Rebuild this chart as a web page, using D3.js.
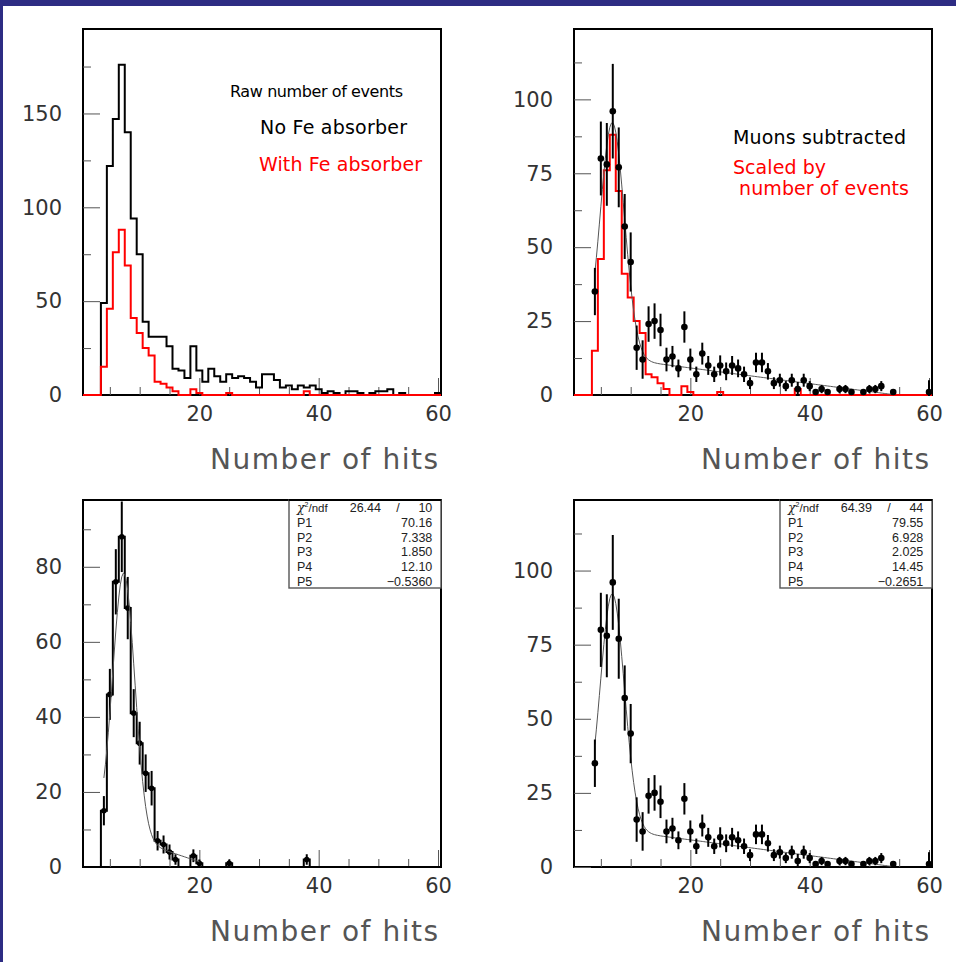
<!DOCTYPE html>
<html>
<head>
<meta charset="utf-8">
<script src="https://cdn.jsdelivr.net/npm/d3@7"></script>
<style>
  body { margin: 0; background: #fff; }
  svg { display: block; }
</style>
</head>
<body>
<svg id="chart" width="956" height="962"></svg>
<script>
// ---- data -------------------------------------------------------------
// bin centres (number of hits), one bin per integer
const hitBins = d3.range(1, 61);

// raw counts, no Fe absorber (bins 1..60)
const rawNoFe = [0, 0, 0, 49, 122, 147, 176, 140, 94, 75,
                 39, 31, 31, 31, 26, 14, 13, 9, 26, 13,
                 7, 14, 10, 7, 11, 9, 10, 9, 7, 4,
                 11, 11, 8, 4, 5, 3, 5, 4, 5, 3,
                 1, 2, 1, 0, 2, 2, 1, 0, 1, 2,
                 2, 3, 0, 1, 0, 0, 0, 0, 0, 1];

// raw counts, with Fe absorber (bins 1..60)
const rawWithFe = [0, 0, 0, 15, 46, 76, 88, 69, 41, 33,
                   25, 21, 7, 6, 4, 2, 0, 0, 3, 1,
                   0, 0, 0, 0, 1, 0, 0, 0, 0, 0,
                   0, 0, 0, 0, 0, 0, 0, 2, 0, 0,
                   0, 0, 0, 0, 0, 0, 0, 0, 0, 0,
                   0, 0, 0, 0, 0, 0, 0, 0, 0, 0];

// statistical errors of the Fe-absorber histogram (non-empty bins)
const feErrBins = [4, 5, 6, 7, 8, 9, 10, 11, 12, 13, 14, 15, 16, 19, 20, 25, 38];
const feErrors  = [3.9, 6.8, 8.7, 9.4, 8.3, 6.4, 5.7, 5.0, 4.6, 2.6, 2.4, 2.0, 1.4, 1.7, 1.0, 1.0, 1.4];

// muon-subtracted spectrum (points with errors)
const muonBins   = [4, 5, 6, 7, 8, 9, 10, 11, 12, 13, 14, 15, 16, 17, 18, 19, 20, 21, 22, 23,
                    24, 25, 26, 27, 28, 29, 30, 31, 32, 33, 34, 35, 36, 37, 38, 39, 40, 41, 42, 43,
                    45, 46, 47, 49, 50, 51, 52, 54, 60];
const muonCounts = [35, 80, 78, 96, 77, 57, 45, 16, 12, 24, 25, 22, 12, 13, 9, 23, 12, 7, 14, 10,
                    7, 10, 8, 10, 9, 7, 4, 11, 11, 8, 4, 5, 3, 5, 2, 5, 3, 1, 2, 1,
                    2, 2, 1, 1, 2, 2, 3, 1, 1];
const muonErrors = [8, 12.5, 14, 16, 13.5, 11, 10, 7.5, 6.5, 6, 6, 5.5, 4, 3.6, 3, 5.3, 3.7, 2.6, 3.7, 3.2,
                    2.6, 3.4, 3, 3.2, 3, 2.6, 2, 3.3, 3.3, 2.8, 2, 2.2, 1.7, 2.2, 2.4, 2.2, 1.7, 1, 1.4, 1,
                    1.4, 1.4, 1, 1, 1.4, 1.4, 1.7, 1, 4];

// fit results: P1*gaus(x; P2, P3) + P4 + P5*x
const fitFeParams   = [70.16, 7.338, 1.850, 12.10, -0.5360];
const fitFeLabels   = ["70.16", "7.338", "1.850", "12.10", "\u22120.5360"];
const fitFeChi2     = ["26.44", "10"];
const fitFeRange    = [4, 20];
const fitMuonParams = [79.55, 6.928, 2.025, 14.45, -0.2651];
const fitMuonLabels = ["79.55", "6.928", "2.025", "14.45", "\u22120.2651"];
const fitMuonChi2   = ["64.39", "44"];
const fitMuonRange  = [4, 54];

// axis ticks
const xMajorTicks = [20, 40, 60];
const xMinorTicks = [5, 10, 15, 25, 30, 35, 45, 50, 55];
const rawYMajor   = [0, 50, 100, 150];
const rawYMinor   = [25, 75, 125, 175];
const muonYMajor  = [0, 25, 50, 75, 100];
const muonYMinor  = [12.5, 37.5, 62.5, 87.5, 112.5];
const feYMajor    = [0, 20, 40, 60, 80];
const feYMinor    = [10, 30, 50, 70, 90];

const axisTitle = "Number of hits";

// ---- drawing ----------------------------------------------------------
const FONT = "'DejaVu Sans', sans-serif";
const svg = d3.select("#chart");
svg.append("rect").attr("width", 956).attr("height", 962).attr("fill", "#fff");
svg.append("rect").attr("x", 0).attr("y", 0).attr("width", 956).attr("height", 6).attr("fill", "#2d2c83");
svg.append("rect").attr("x", 0).attr("y", 0).attr("width", 3).attr("height", 962).attr("fill", "#2d2c83");

let clipId = 0;

function makePanel(cfg) {
  const g = svg.append("g");
  const x = d3.scaleLinear().domain([0.5, 60.5]).range([cfg.x0, cfg.x1]);
  const y = d3.scaleLinear().domain([0, cfg.yMax]).range([cfg.y1, cfg.y0]);

  // frame
  g.append("rect")
    .attr("x", cfg.x0).attr("y", cfg.y0)
    .attr("width", cfg.x1 - cfg.x0).attr("height", cfg.y1 - cfg.y0)
    .attr("fill", "#fff").attr("stroke", "#000").attr("stroke-width", 2);

  // axes: ticks point into the frame, labels outside
  function styleAxis(sel) {
    sel.select(".domain").remove();
    sel.selectAll(".tick line").attr("stroke", "#555").attr("stroke-width", 1);
    sel.selectAll("text").attr("font-family", FONT).attr("font-size", 21).attr("fill", "#333");
  }
  const fmt = d3.format("d");
  g.append("g").attr("transform", `translate(0,${cfg.y1})`)
    .call(d3.axisBottom(x).tickValues(xMinorTicks).tickSize(-8).tickFormat(""))
    .call(styleAxis);
  g.append("g").attr("transform", `translate(0,${cfg.y1})`)
    .call(d3.axisBottom(x).tickValues(xMajorTicks).tickSize(-17).tickPadding(11).tickFormat(fmt))
    .call(styleAxis);
  g.append("g").attr("transform", `translate(${cfg.x0},0)`)
    .call(d3.axisLeft(y).tickValues(cfg.yMinor).tickSize(-8).tickFormat(""))
    .call(styleAxis);
  g.append("g").attr("transform", `translate(${cfg.x0},0)`)
    .call(d3.axisLeft(y).tickValues(cfg.yMajor).tickSize(-17).tickPadding(21).tickFormat(fmt))
    .call(styleAxis);

  // axis title
  g.append("text")
    .attr("x", cfg.x1 - 231).attr("y", cfg.y1 + 74)
    .attr("font-family", FONT).attr("font-size", 28).attr("fill", "#555")
    .attr("textLength", 228).attr("lengthAdjust", "spacing")
    .text(axisTitle);

  const id = "clip" + (clipId++);
  svg.append("clipPath").attr("id", id)
    .append("rect").attr("x", cfg.x0).attr("y", cfg.y0)
    .attr("width", cfg.x1 - cfg.x0).attr("height", cfg.y1 - cfg.y0 + 1);
  const data = g.append("g").attr("clip-path", `url(#${id})`);

  return { g, data, x, y, cfg };
}

function stepPath(p, counts, color, width) {
  const pts = [[0.5, 0]];
  counts.forEach((c, i) => { pts.push([hitBins[i] - 0.5, c], [hitBins[i] + 0.5, c]); });
  pts.push([60.5, 0]);
  const line = d3.line().x(d => p.x(d[0])).y(d => p.y(d[1]));
  p.data.append("path").attr("d", line(pts))
    .attr("fill", "none").attr("stroke", color).attr("stroke-width", width)
    .attr("stroke-linejoin", "miter");
}

function fitCurve(p, params, range) {
  const [a, mu, sigma, c0, c1] = params;
  const f = t => a * Math.exp(-0.5 * ((t - mu) / sigma) ** 2) + c0 + c1 * t;
  const xs = d3.range(range[0], range[1] + 1e-9, 0.25);
  const line = d3.line().x(t => p.x(t)).y(t => p.y(Math.max(0, f(t))));
  p.data.append("path").attr("d", line(xs))
    .attr("fill", "none").attr("stroke", "#555").attr("stroke-width", 1);
}

function errorPoints(p, bins, counts, errs, r) {
  const grp = p.data.append("g");
  bins.forEach((b, i) => {
    grp.append("line")
      .attr("x1", p.x(b)).attr("x2", p.x(b))
      .attr("y1", p.y(counts[i] - errs[i])).attr("y2", p.y(counts[i] + errs[i]))
      .attr("stroke", "#000").attr("stroke-width", 2);
    grp.append("circle").attr("cx", p.x(b)).attr("cy", p.y(counts[i])).attr("r", r).attr("fill", "#000");
  });
}

function statsBox(p, chi2, labels) {
  const { x1, y0 } = p.cfg;
  const bx = x1 - 152, bw = 152, bh = 88;
  const g = p.g.append("g").attr("font-family", "'Liberation Sans', Arial, sans-serif")
    .attr("font-size", 12.5).attr("fill", "#222");
  g.append("rect").attr("x", bx).attr("y", y0).attr("width", bw).attr("height", bh)
    .attr("fill", "#fff").attr("stroke", "#555").attr("stroke-width", 1.4);
  g.append("line").attr("x1", bx).attr("x2", x1).attr("y1", y0).attr("y2", y0)
    .attr("stroke", "#000").attr("stroke-width", 2);
  const base = y0 + 12, step = 14.75;
  const t = g.append("text").attr("x", bx + 8).attr("y", base);
  t.append("tspan").attr("font-family", "'DejaVu Serif', serif").attr("font-style", "italic").text("\u03C7");
  t.append("tspan").attr("font-size", 7).attr("dy", -5).text("2");
  t.append("tspan").attr("dy", 5).attr("font-size", 11.5).text("/ndf");
  g.append("text").attr("x", bx + 92).attr("y", base).attr("text-anchor", "end").text(chi2[0]);
  g.append("text").attr("x", bx + 109).attr("y", base).attr("text-anchor", "middle").text("/");
  g.append("text").attr("x", x1 - 8.7).attr("y", base).attr("text-anchor", "end").text(chi2[1]);
  labels.forEach((v, i) => {
    g.append("text").attr("x", bx + 8).attr("y", base + step * (i + 1)).text("P" + (i + 1));
    g.append("text").attr("x", x1 - 8.7).attr("y", base + step * (i + 1)).attr("text-anchor", "end").text(v);
  });
}

function label(p, dx, dy, size, color, len, txt) {
  p.g.append("text")
    .attr("x", p.cfg.x0 + dx).attr("y", p.cfg.y0 + dy)
    .attr("font-family", FONT).attr("font-size", size).attr("fill", color)
    .attr("textLength", len).attr("lengthAdjust", "spacing")
    .text(txt);
}

// top left: raw spectra
const p1 = makePanel({ x0: 83, x1: 441, y0: 29, y1: 395, yMax: 195, yMajor: rawYMajor, yMinor: rawYMinor });
stepPath(p1, rawNoFe, "#000", 2);
stepPath(p1, rawWithFe, "#ff0000", 2);
label(p1, 147, 68, 16, "#000", 173, "Raw number of events");
label(p1, 177, 104.5, 19, "#000", 147, "No Fe absorber");
label(p1, 176, 141.5, 19, "#ff0000", 163, "With Fe absorber");

// top right: muon-subtracted points vs scaled Fe spectrum
const p2 = makePanel({ x0: 574, x1: 932, y0: 29, y1: 395, yMax: 123.8, yMajor: muonYMajor, yMinor: muonYMinor });
stepPath(p2, rawWithFe, "#ff0000", 2);
fitCurve(p2, fitMuonParams, fitMuonRange);
errorPoints(p2, muonBins, muonCounts, muonErrors, 3.3);
label(p2, 159, 115, 19, "#000", 173, "Muons subtracted");
label(p2, 159, 145, 19, "#ff0000", 93, "Scaled by");
label(p2, 165, 165.5, 19, "#ff0000", 170, "number of events");

// bottom left: Fe-absorber spectrum with fit
const p3 = makePanel({ x0: 83, x1: 441, y0: 500, y1: 867, yMax: 97.8, yMajor: feYMajor, yMinor: feYMinor });
stepPath(p3, rawWithFe, "#000", 2);
errorPoints(p3, feErrBins, feErrBins.map(b => rawWithFe[b - 1]), feErrors, 2.8);
fitCurve(p3, fitFeParams, fitFeRange);
statsBox(p3, fitFeChi2, fitFeLabels);

// bottom right: muon-subtracted spectrum with fit
const p4 = makePanel({ x0: 574, x1: 932, y0: 500, y1: 867, yMax: 123.8, yMajor: muonYMajor, yMinor: muonYMinor });
fitCurve(p4, fitMuonParams, fitMuonRange);
errorPoints(p4, muonBins, muonCounts, muonErrors, 3.3);
statsBox(p4, fitMuonChi2, fitMuonLabels);
</script>
</body>
</html>
